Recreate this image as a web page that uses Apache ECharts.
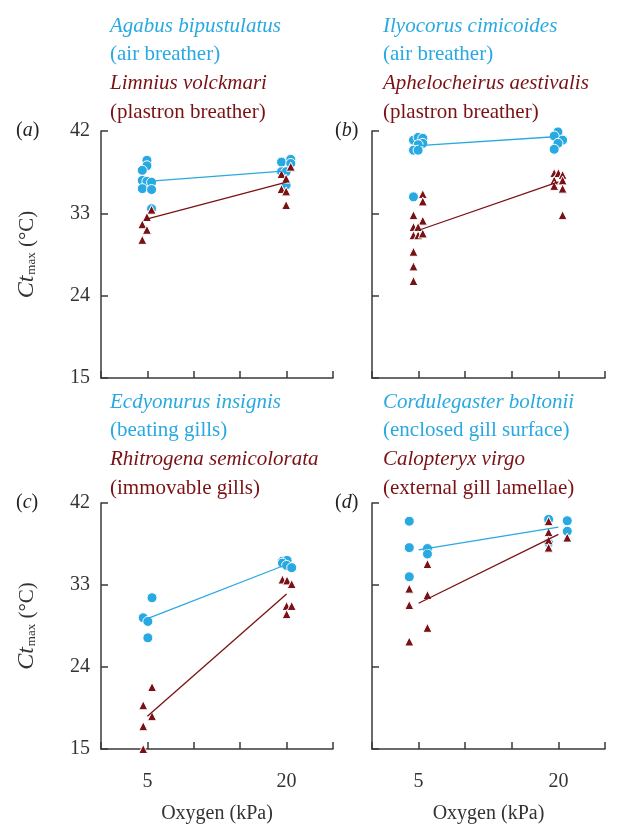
<!DOCTYPE html>
<html><head><meta charset="utf-8">
<script src="https://cdn.jsdelivr.net/npm/echarts@6/dist/echarts.min.js"></script>
<style>html,body{margin:0;padding:0;background:#fff}#c{width:621px;height:825px}</style>
</head><body><div id="c"></div>
<script>
// x positions: 1 = 5 kPa, 4 = 20 kPa (points jittered horizontally as in the figure)
const xTickText = {1: '5', 4: '20'};
const yMin = 15, yMax = 42, yStep = 9;

// Panel (a) Agabus bipustulatus (air) / Limnius volckmari (plastron)
const aAir = [[0.99,38.8],[0.99,38.2],[0.89,37.7],[0.89,36.6],[0.99,36.5],[1.09,36.4],[0.89,35.7],[1.09,35.6],[1.09,33.5],
              [3.89,38.6],[4.09,38.9],[4.09,38.45],[3.89,37.55],[3.99,37.55],[3.99,36.1]];
const aPlastron = [[1.09,33.4],[0.99,32.6],[0.89,31.8],[0.99,31.2],[0.89,30.1],
                   [4.09,38.1],[3.89,37.3],[3.99,36.8],[3.89,35.65],[3.99,35.4],[3.99,33.9]];
const aAirFit = [[1,36.5],[4,37.65]];
const aPlastronFit = [[1,32.4],[4,36.4]];

// Panel (b) Ilyocorus cimicoides (air) / Aphelocheirus aestivalis (plastron)
const bAir = [[0.89,41.0],[0.99,41.3],[1.09,41.2],[1.09,40.65],[0.99,40.5],[0.89,39.9],[0.99,39.9],[0.89,34.8],
              [3.99,41.9],[3.91,41.45],[4.09,41.0],[3.99,40.65],[3.91,40.0]];
const bPlastron = [[1.09,35.1],[1.09,34.3],[0.89,32.8],[1.09,32.2],[0.89,31.5],[0.99,31.5],[0.89,30.6],[0.99,30.6],[1.09,30.8],
                   [0.89,28.8],[0.89,27.2],[0.89,25.6],
                   [3.91,37.4],[4.0,37.4],[4.09,37.2],[3.91,36.6],[4.09,36.6],[3.91,36.0],[4.09,35.7],[4.09,32.8]];
const bAirFit = [[1,40.4],[4,41.4]];
const bPlastronFit = [[1,31.15],[4,36.45]];

// Panel (c) Ecdyonurus insignis (beating gills) / Rhitrogena semicolorata (immovable gills)
const cBeating = [[1.1,31.6],[0.91,29.4],[1.01,29.0],[1.01,27.2],
                  [3.91,35.6],[4.01,35.7],[3.91,35.4],[4.0,35.15],[4.11,34.9]];
const cImmovable = [[1.1,21.8],[0.91,19.8],[1.1,18.6],[0.91,17.5],[0.91,15.0],
                    [3.91,33.6],[4.01,33.5],[4.11,33.1],[4.0,30.7],[4.11,30.7],[4.0,29.8]];
const cBeatingFit = [[1,29.3],[4,35.25]];
const cImmovableFit = [[1,18.6],[4,32.0]];

// Panel (d) Cordulegaster boltonii (enclosed gill surface) / Calopteryx virgo (external gill lamellae)
const dEnclosed = [[0.8,40.0],[0.8,37.1],[0.8,33.9],[1.19,37.0],[1.19,36.4],
                   [3.79,40.2],[4.19,40.05],[4.19,38.9],[3.79,37.6]];
const dExternal = [[1.19,35.3],[0.8,32.6],[1.19,31.9],[0.8,30.8],[1.19,28.3],[0.8,26.8],
                   [3.79,40.0],[3.79,38.8],[3.79,37.9],[4.19,38.2],[3.79,37.1]];
const dEnclosedFit = [[1,36.85],[4,39.35]];
const dExternalFit = [[1,31.0],[4,38.55]];

const titles = [
  ['Agabus bipustulatus', '(air breather)', 'Limnius volckmari', '(plastron breather)'],
  ['Ilyocorus cimicoides', '(air breather)', 'Aphelocheirus aestivalis', '(plastron breather)'],
  ['Ecdyonurus insignis', '(beating gills)', 'Rhitrogena semicolorata', '(immovable gills)'],
  ['Cordulegaster boltonii', '(enclosed gill surface)', 'Calopteryx virgo', '(external gill lamellae)']
];
const panelLetters = ['a','b','c','d'];

const BLUE = '#29a9e1', RED = '#7a1114', AX = '#3a3a3a';
const SERIF = '"Liberation Serif", "DejaVu Serif", serif';

const grids = [
  {left: 101, width: 232, top: 131, height: 247},
  {left: 372, width: 233, top: 131, height: 247},
  {left: 101, width: 232, top: 503, height: 246},
  {left: 372, width: 233, top: 503, height: 246}
];

const panels = [
  [aAir, aPlastron, aAirFit, aPlastronFit],
  [bAir, bPlastron, bAirFit, bPlastronFit],
  [cBeating, cImmovable, cBeatingFit, cImmovableFit],
  [dEnclosed, dExternal, dEnclosedFit, dExternalFit]
];

const xAxes = [], yAxes = [], series = [], graphics = [];
grids.forEach((g, i) => {
  const bottomRow = i >= 2, leftCol = i % 2 === 0;
  xAxes.push({
    type: 'value', gridIndex: i, min: 0, max: 5, interval: 1,
    axisLine: {lineStyle: {color: AX, width: 1.5}},
    axisTick: {inside: true, length: 7, lineStyle: {color: AX, width: 1.5}},
    splitLine: {show: false},
    axisLabel: {show: bottomRow, margin: 23, color: '#333', fontFamily: SERIF, fontSize: 20,
      formatter: v => xTickText[v] || ''},
    name: bottomRow ? 'Oxygen (kPa)' : '', nameLocation: 'middle', nameGap: 55,
    nameTextStyle: {color: '#333', fontFamily: SERIF, fontSize: 20}
  });
  yAxes.push({
    type: 'value', gridIndex: i, min: yMin, max: yMax, interval: yStep,
    axisLine: {show: true, lineStyle: {color: AX, width: 1.5}},
    axisTick: {show: true, inside: true, length: 7, lineStyle: {color: AX, width: 1.5}},
    splitLine: {show: false},
    axisLabel: {show: leftCol, margin: 11, color: '#333', fontFamily: SERIF, fontSize: 20},
    name: leftCol ? '{i|Ct}{s|max} (°C)' : '', nameLocation: 'middle', nameGap: 62,
    nameTextStyle: {color: '#333', fontFamily: SERIF, fontSize: 21,
      rich: {
        i: {fontStyle: 'italic', fontSize: 24, fontFamily: SERIF, color: '#333'},
        s: {fontSize: 13, fontFamily: SERIF, color: '#333', padding: [10, 0, 0, 1]}
      }}
  });
  const [air, other, airFit, otherFit] = panels[i];
  series.push({type: 'scatter', xAxisIndex: i, yAxisIndex: i, data: air, symbol: 'circle', symbolSize: 10,
    itemStyle: {color: BLUE, opacity: 1, borderColor: '#fff', borderWidth: 1}, z: 2});
  series.push({type: 'scatter', xAxisIndex: i, yAxisIndex: i, data: other, symbol: 'triangle', symbolSize: [9, 9],
    itemStyle: {color: RED, opacity: 1, borderColor: '#fff', borderWidth: 1}, z: 3});
  series.push({type: 'line', xAxisIndex: i, yAxisIndex: i, data: airFit, showSymbol: false, symbol: 'none',
    lineStyle: {color: BLUE, width: 1.3}, z: 4});
  series.push({type: 'line', xAxisIndex: i, yAxisIndex: i, data: otherFit, showSymbol: false, symbol: 'none',
    lineStyle: {color: RED, width: 1.3}, z: 4});

  // panel letter
  graphics.push({type: 'text', x: leftCol ? 16 : 335, y: g.top, style: {
    text: '({l|' + panelLetters[i] + '})', fontFamily: SERIF, fontSize: 20, fill: '#222', verticalAlign: 'middle',
    rich: {l: {fontStyle: 'italic', fontFamily: SERIF, fontSize: 20, color: '#222'}}}});
  // titles
  const tx = leftCol ? 110 : 383;
  const ty0 = bottomRow ? 402 : 26;
  titles[i].forEach((t, k) => {
    graphics.push({type: 'text', x: tx, y: ty0 + k * 28.7, style: {
      text: t, fontFamily: SERIF, fontSize: 21, fontStyle: (k % 2 === 0) ? 'italic' : 'normal',
      fill: k < 2 ? BLUE : RED, verticalAlign: 'middle'}});
  });
});

const chart = echarts.init(document.getElementById('c'), null, {renderer: 'canvas'});
chart.setOption({
  animation: false,
  backgroundColor: '#fff',
  grid: grids,
  xAxis: xAxes,
  yAxis: yAxes,
  series: series,
  graphic: graphics
});
</script>
</body></html>
